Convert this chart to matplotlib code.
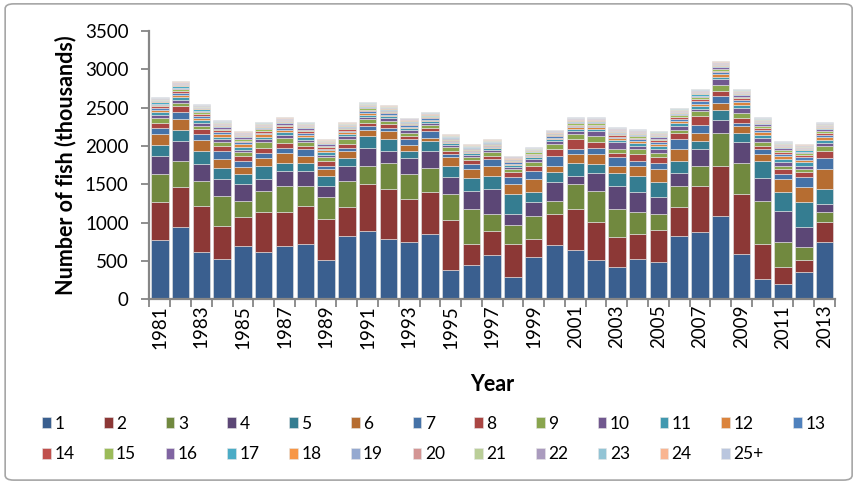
import numpy as np
import matplotlib
matplotlib.use("Agg")
import matplotlib.pyplot as plt
from matplotlib.patches import FancyBboxPatch

plt.rcParams['font.family'] = ['Lato', 'DejaVu Sans']

years = [str(y) for y in range(1981, 2014)]

# numbers at age (thousands)
age1 = [770, 940, 617, 530, 700, 617, 700, 722, 508, 830, 896, 788, 744, 852, 378, 444, 574,
        291, 552, 705, 639, 508, 422, 530, 487, 830, 874, 1090, 596, 270, 205, 356, 744]
age2 = [498, 519, 603, 428, 372, 520, 437, 494, 537, 372, 607, 650, 563, 542, 651, 279, 323,
        432, 236, 410, 542, 498, 389, 323, 411, 372, 607, 647, 777, 454, 218, 153, 262]
age3 = [367, 350, 328, 393, 214, 280, 345, 266, 284, 345, 236, 345, 328, 323, 345, 459, 218,
        240, 305, 171, 323, 411, 371, 284, 218, 279, 258, 432, 410, 564, 327, 175, 131]
age4 = [236, 257, 218, 218, 218, 152, 192, 192, 153, 196, 240, 153, 214, 218, 218, 236, 323,
        153, 175, 240, 109, 235, 301, 258, 214, 170, 218, 175, 263, 297, 407, 258, 109]
age5 = [148, 149, 170, 149, 131, 171, 105, 105, 131, 105, 148, 149, 87, 131, 149, 166, 166,
        258, 127, 131, 170, 114, 170, 218, 197, 153, 109, 131, 126, 222, 240, 327, 192]
age6 = [131, 131, 136, 113, 87, 100, 135, 96, 87, 92, 79, 109, 83, 44, 109, 117, 136,
        131, 174, 87, 110, 127, 88, 131, 174, 153, 105, 87, 87, 88, 174, 192, 262]
age7 = [88, 91, 83, 110, 88, 74, 66, 83, 44, 39, 52, 44, 66, 87, 44, 66, 91,
        87, 110, 127, 65, 87, 109, 66, 83, 131, 109, 87, 44, 65, 66, 131, 149]
age8 = [65, 88, 65, 61, 65, 62, 61, 44, 66, 44, 44, 43, 43, 40, 43, 44, 44,
        66, 61, 87, 131, 66, 65, 83, 66, 83, 105, 66, 66, 44, 65, 66, 87]
age9 = [61, 39, 39, 48, 44, 70, 66, 44, 43, 74, 44, 44, 44, 35, 44, 43, 44,
        43, 48, 66, 61, 82, 44, 65, 65, 35, 70, 87, 65, 44, 40, 43, 66]
age10 = [40, 35, 44, 35, 35, 43, 39, 34, 35, 35, 35, 35, 35, 34, 31, 35, 35,
         31, 39, 43, 44, 66, 88, 44, 44, 52, 26, 66, 66, 61, 43, 44, 43]
age11 = [34, 37, 36, 37, 36, 33, 35, 35, 30, 27, 29, 26, 24, 20, 21, 20, 20,
         21, 23, 22, 26, 26, 29, 32, 35, 36, 39, 35, 37, 39, 39, 41, 39]
age12 = [30, 32, 31, 32, 31, 29, 30, 30, 26, 23, 25, 22, 21, 18, 18, 17, 17,
         18, 20, 19, 23, 23, 25, 28, 31, 31, 34, 31, 32, 34, 44, 36, 34]
age13 = [25, 27, 26, 27, 26, 25, 25, 26, 22, 20, 21, 19, 18, 15, 15, 14, 14,
         15, 17, 16, 19, 19, 21, 24, 26, 27, 29, 26, 27, 29, 29, 30, 29]
age14 = [23, 25, 24, 24, 24, 22, 23, 23, 20, 18, 19, 17, 16, 14, 14, 13, 13,
         14, 15, 15, 18, 18, 19, 21, 24, 24, 26, 24, 24, 26, 26, 28, 26]
age15 = [20, 22, 22, 22, 22, 20, 21, 21, 18, 16, 17, 15, 15, 12, 13, 12, 12,
         13, 14, 13, 16, 16, 17, 19, 21, 22, 24, 21, 22, 24, 24, 25, 24]
age16 = [18, 20, 19, 20, 19, 18, 18, 19, 16, 14, 15, 14, 13, 11, 11, 10, 10,
         11, 12, 12, 14, 14, 15, 17, 19, 19, 21, 19, 20, 21, 21, 22, 21]
age17 = [16, 17, 17, 17, 17, 16, 16, 16, 14, 13, 13, 12, 11, 10, 10, 9, 9,
         10, 11, 10, 12, 12, 13, 15, 17, 17, 18, 17, 17, 18, 18, 19, 18]
age18 = [14, 15, 14, 15, 14, 13, 14, 14, 12, 11, 12, 10, 10, 8, 8, 8, 8,
         8, 9, 9, 11, 11, 12, 13, 14, 14, 16, 14, 15, 16, 16, 17, 16]
age19 = [11, 12, 12, 12, 12, 11, 12, 12, 10, 9, 10, 9, 8, 7, 7, 7, 7,
         7, 8, 7, 9, 9, 10, 11, 12, 12, 13, 12, 12, 13, 13, 14, 13]
age20 = [10, 11, 11, 11, 11, 10, 10, 10, 9, 8, 9, 8, 7, 6, 6, 6, 6,
         6, 7, 7, 8, 8, 9, 10, 11, 11, 12, 11, 11, 12, 12, 12, 12]
age21 = [8, 9, 8, 9, 8, 8, 8, 8, 7, 6, 7, 6, 6, 5, 5, 5, 5,
         5, 5, 5, 6, 6, 7, 7, 8, 8, 9, 8, 9, 9, 9, 10, 9]
age22 = [7, 7, 7, 7, 7, 7, 7, 7, 6, 5, 6, 5, 5, 4, 4, 4, 4,
         4, 5, 4, 5, 5, 6, 6, 7, 7, 8, 7, 7, 8, 8, 8, 8]
age23 = [6, 6, 6, 6, 6, 6, 6, 6, 5, 4, 5, 4, 4, 3, 3, 3, 3,
         4, 4, 4, 4, 4, 5, 5, 6, 6, 7, 6, 6, 7, 7, 7, 7]
age24 = [5, 5, 5, 5, 5, 4, 5, 5, 4, 4, 4, 3, 3, 3, 3, 3, 3,
         3, 3, 3, 4, 4, 4, 4, 5, 5, 5, 5, 5, 5, 5, 6, 5]
age25 = [3, 4, 4, 4, 4, 3, 3, 3, 3, 3, 3, 3, 2, 2, 2, 2, 2,
         2, 2, 2, 3, 3, 3, 3, 4, 4, 4, 4, 4, 4, 4, 4, 4]

series = [age1, age2, age3, age4, age5, age6, age7, age8, age9, age10, age11, age12, age13,
          age14, age15, age16, age17, age18, age19, age20, age21, age22, age23, age24, age25]
labels = [str(i) for i in range(1, 25)] + ['25+']
colors = ['#3A5F8F', '#8C3836', '#71893F', '#5C4776', '#357D91', '#B66D31',
          '#4572A7', '#AA4643', '#89A54E', '#71588F', '#4198AF', '#DB843D',
          '#4F81BD', '#C0504D', '#9BBB59', '#8064A2', '#4BACC6', '#F79646',
          '#95A9D0', '#D39594', '#BACE98', '#AA9BBE', '#93C4D5', '#F9B591', '#BAC6DE']

fig = plt.figure(figsize=(8.59, 4.83), dpi=100)
ax = fig.add_axes([0.174, 0.3803, 0.798, 0.5555])

x = np.arange(len(years))
bottom = np.zeros(len(years))
handles = []
for vals, lab, col in zip(series, labels, colors):
    b = ax.bar(x, vals, bottom=bottom, width=0.84, color=col, label=lab,
               edgecolor='#e6e6e6', linewidth=0.4)
    handles.append(b)
    bottom += np.array(vals)

ax.set_xlim(-0.5, len(years) - 0.5)
ax.set_ylim(0, 3500)
ax.set_yticks(range(0, 3501, 500))
ax.tick_params(axis='y', labelsize=13.5, direction='out', length=6, width=1.3,
               color='#868686', pad=9)

# tick marks between categories, labels on every second year
ax.set_xticks(np.arange(-0.5, len(years), 1))
ax.set_xticklabels([])
ax.set_xticks(x[::2], minor=True)
ax.set_xticklabels(years[::2], minor=True, rotation=90, fontsize=13.5)
ax.tick_params(axis='x', which='major', direction='out', length=6, width=1.3, color='#868686')
ax.tick_params(axis='x', which='minor', length=0, pad=4)

for s in ['top', 'right']:
    ax.spines[s].set_visible(False)
for s in ['left', 'bottom']:
    ax.spines[s].set_color('#868686')
    ax.spines[s].set_linewidth(1.6)

ax.set_ylabel('Number of fish (thousands)', fontsize=15.5, fontweight='bold', labelpad=6)
ax.set_xlabel('Year', fontsize=15.5, fontweight='bold', labelpad=18.5)

# legend reads row by row: 1..13 on top, 14..25+ below
order = []
for i in range(13):
    order.append(i)
    if i + 13 < len(handles):
        order.append(i + 13)
fig.legend([handles[i] for i in order], [labels[i] for i in order],
           loc='upper left', bbox_to_anchor=(0.049, 0.1396), ncol=13, frameon=False,
           fontsize=12.5, handlelength=0.5, handleheight=0.6, handletextpad=0.2,
           columnspacing=1.7, labelspacing=0.85, borderaxespad=0, borderpad=0)

fig.patches.append(FancyBboxPatch((0.006, 0.006), 0.986, 0.986, boxstyle='round,pad=0,rounding_size=0.01',
                                  transform=fig.transFigure, fill=False, edgecolor='#a6a6a6', linewidth=1.2))

fig.savefig('out.png', dpi=100)
